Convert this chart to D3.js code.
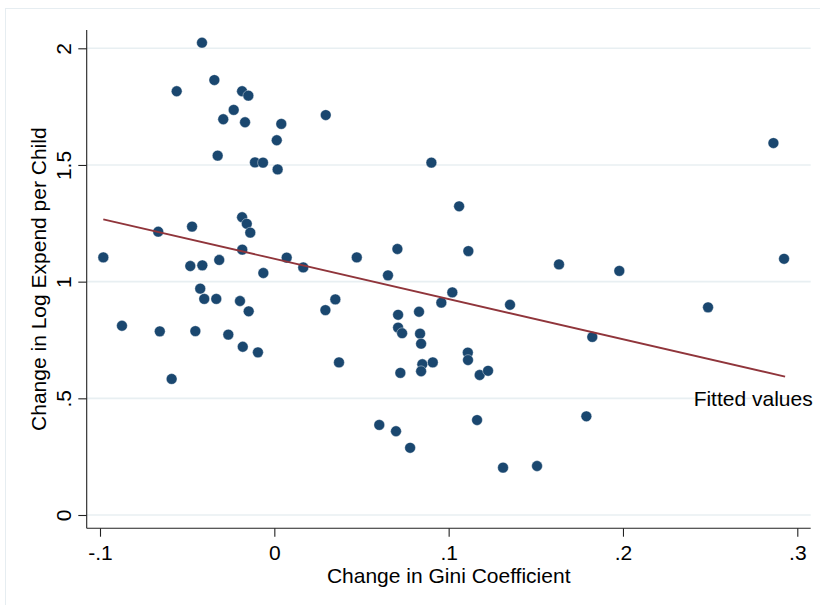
<!DOCTYPE html>
<html>
<head>
<meta charset="utf-8">
<script src="https://cdn.jsdelivr.net/npm/d3@7"></script>
<style>
  html, body { margin: 0; padding: 0; background: #fff; }
  text { font-family: "Liberation Sans", Arial, Helvetica, sans-serif; fill: #000; }
</style>
</head>
<body>
<svg id="chart" width="820" height="605"></svg>
<script>
// ---- data ----
const giniChange = [
  -0.0415, -0.0344, -0.0560, -0.0185, -0.0149, -0.0233, -0.0293, -0.0168, 0.0040, 0.0295,
  0.0014, -0.0325, -0.0111, -0.0065, 0.0019, 0.0901, 0.1060, 0.1113, 0.0706, 0.0473,
  0.0071, 0.0166, 0.0652, -0.0981, -0.0666, -0.0472, -0.0185, -0.0158, -0.0138, -0.0184,
  -0.0482, -0.0413, -0.0316, -0.0063, -0.0425, -0.0402, -0.0333, -0.0197, -0.0147, 0.0293,
  -0.0874, -0.0657, -0.0453, -0.0264, -0.0181, -0.0094, -0.0589, 0.1021, 0.0958, 0.1352,
  0.0350, 0.0710, 0.0830, 0.0710, 0.0733, 0.0836, 0.0842, 0.0371, 0.0723, 0.0849,
  0.0842, 0.0909, 0.1110, 0.1111, 0.1178, 0.1226, 0.0602, 0.0698, 0.0779, 0.1163,
  0.1312, 0.1507, 0.2863, 0.1633, 0.1979, 0.2924, 0.2488, 0.1824, 0.1790
];
const logExpendChange = [
  2.024, 1.864, 1.816, 1.816, 1.797, 1.736, 1.696, 1.683, 1.676, 1.714,
  1.606, 1.540, 1.511, 1.510, 1.481, 1.510, 1.323, 1.131, 1.140, 1.104,
  1.103, 1.061, 1.027, 1.104, 1.214, 1.236, 1.276, 1.248, 1.210, 1.137,
  1.067, 1.070, 1.093, 1.037, 0.970, 0.926, 0.926, 0.917, 0.873, 0.878,
  0.811, 0.787, 0.788, 0.773, 0.721, 0.697, 0.583, 0.954, 0.910, 0.901,
  0.924, 0.858, 0.871, 0.803, 0.779, 0.777, 0.734, 0.654, 0.609, 0.646,
  0.616, 0.654, 0.696, 0.664, 0.600, 0.618, 0.386, 0.359, 0.288, 0.407,
  0.203, 0.210, 1.594, 1.074, 1.046, 1.098, 0.890, 0.763, 0.423
];
const fittedX = [-0.0981, 0.2930];
const fittedY = [1.267, 0.593];
const xTicks = [-0.1, 0, 0.1, 0.2, 0.3];
const xTickLabels = ["-.1", "0", ".1", ".2", ".3"];
const yTicks = [0, 0.5, 1, 1.5, 2];
const yTickLabels = ["0", ".5", "1", "1.5", "2"];
const xTitle = "Change in Gini Coefficient";
const yTitle = "Change in Log Expend per Child";
const fitLabel = "Fitted values";

// ---- layout ----
const svg = d3.select("#chart");
const plot = { left: 86.7, right: 810.7, top: 30, bottom: 528.3 };
const x = d3.scaleLinear().domain([-0.1, 0.3]).range([100, 797.3]);
const y = d3.scaleLinear().domain([0, 2]).range([515, 48.3]);
const fontSize = 21;

// outer frame
svg.append("rect")
  .attr("x", 5.5).attr("y", 8.5).attr("width", 900).attr("height", 700)
  .attr("fill", "#fff").attr("stroke", "#e6edf1").attr("stroke-width", 1);

// gridlines
svg.append("g").selectAll("line").data(yTicks).join("line")
  .attr("x1", plot.left).attr("x2", plot.right)
  .attr("y1", d => y(d)).attr("y2", d => y(d))
  .attr("stroke", "#e8eff2").attr("stroke-width", 1.6);

// axes using d3 axis generators
const yAxis = d3.axisLeft(y).tickValues(yTicks).tickSize(8.4)
  .tickFormat((d, i) => yTickLabels[i]);
const gy = svg.append("g").attr("transform", `translate(${plot.left},0)`).call(yAxis);
gy.select(".domain").remove();
gy.selectAll(".tick line").attr("stroke", "#222").attr("stroke-width", 1.1);
gy.selectAll(".tick text")
  .attr("x", null).attr("dy", null)
  .attr("transform", "translate(-15.7,0) rotate(-90)")
  .attr("text-anchor", "middle")
  .style("font-size", fontSize + "px")
  .style("font-family", '"Liberation Sans", Arial, sans-serif')
  .attr("fill", "#000");

const xAxis = d3.axisBottom(x).tickValues(xTicks).tickSize(8.4)
  .tickFormat((d, i) => xTickLabels[i]);
const gx = svg.append("g").attr("transform", `translate(0,${plot.bottom})`).call(xAxis);
gx.select(".domain").remove();
gx.selectAll(".tick line").attr("stroke", "#222").attr("stroke-width", 1.1);
gx.selectAll(".tick text")
  .attr("y", 31.5).attr("dy", null)
  .style("font-size", fontSize + "px")
  .style("font-family", '"Liberation Sans", Arial, sans-serif')
  .attr("fill", "#000");

// axis lines
svg.append("line").attr("x1", plot.left).attr("x2", plot.left)
  .attr("y1", plot.top).attr("y2", plot.bottom)
  .attr("stroke", "#222").attr("stroke-width", 1.1);
svg.append("line").attr("x1", plot.left).attr("x2", plot.right)
  .attr("y1", plot.bottom).attr("y2", plot.bottom)
  .attr("stroke", "#222").attr("stroke-width", 1.1);

// points
const pts = giniChange.map((g, i) => ({ x: g, y: logExpendChange[i] }));
svg.append("g").selectAll("circle").data(pts).join("circle")
  .attr("cx", d => x(d.x)).attr("cy", d => y(d.y)).attr("r", 5.4)
  .attr("fill", "#1a476f")
  .attr("stroke", "#ffffff").attr("stroke-width", 0.4);

// fitted line
const fitPts = fittedX.map((v, i) => [v, fittedY[i]]);
svg.append("path")
  .datum(fitPts)
  .attr("d", d3.line().x(d => x(d[0])).y(d => y(d[1])))
  .attr("fill", "none").attr("stroke", "#90353b").attr("stroke-width", 1.9);

// fitted label
svg.append("text")
  .attr("x", 812.7).attr("y", 406)
  .attr("text-anchor", "end")
  .style("font-size", fontSize + "px")
  .text(fitLabel);

// titles
svg.append("text")
  .attr("x", (plot.left + plot.right) / 2).attr("y", 583)
  .attr("text-anchor", "middle")
  .style("font-size", fontSize + "px")
  .text(xTitle);
svg.append("text")
  .attr("transform", `translate(45.5,${(plot.top + plot.bottom) / 2}) rotate(-90)`)
  .attr("text-anchor", "middle")
  .style("font-size", fontSize + "px")
  .text(yTitle);
</script>
</body>
</html>
